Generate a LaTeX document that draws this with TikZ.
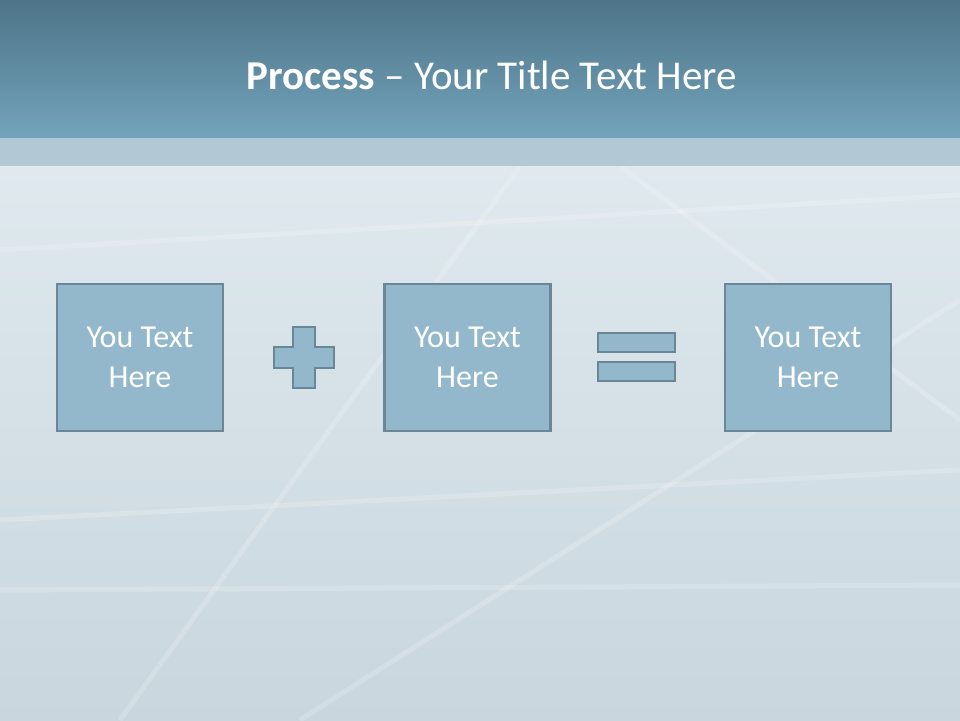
\documentclass[tikz,border=0pt]{standalone}
\usepackage{fontspec}
\setmainfont{Carlito}
\definecolor{headtop}{HTML}{4E7489}
\definecolor{headbot}{HTML}{72A3BA}
\definecolor{bandcol}{HTML}{B2C9D5}
\definecolor{bodytop}{HTML}{DFE9EE}
\definecolor{bodybot}{HTML}{C9D6DE}
\definecolor{boxfill}{HTML}{93B8CC}
\definecolor{boxline}{HTML}{6A8797}

\tikzset{
    txtbox/.style={
        draw=boxline,
        fill=boxfill,
        line width=2.8pt,
        minimum width=166pt,
        minimum height=147pt,
        align=center,
        text=white,
        font=\fontsize{32}{40}\selectfont
    },
    barbox/.style={
        draw=boxline,
        fill=boxfill,
        line width=2.8pt,
        minimum width=77pt,
        minimum height=19pt,
        inner sep=0pt
    },
    streak/.style={
        white,
        opacity=0.18,
        line width=5pt
    }
}

\begin{document}
\begin{tikzpicture}[x=1pt,y=-1pt]
\useasboundingbox (0,0) rectangle (960,720);
		% background
		\shade[top color=bodytop, bottom color=bodybot] (0,166) rectangle (960,720);
		\path[streak]
			(0,250) edge (960,195)
			(120,720) edge (520,166)
			(300,720) edge (960,300)
			(0,520) edge (960,470)
			(0,590) edge (960,585)
			(620,166) edge (960,420)
			;
		\fill[bandcol] (0,137) rectangle (960,166);
		\shade[top color=headtop, bottom color=headbot] (0,0) rectangle (960,137);

		\path
			node[text=white, font=\fontsize{41}{44}\selectfont] at (492,75) (title)
				{\textbf{Process} -- Your Title Text Here}
			;
		\path
			node[txtbox] at (140,357.5) (t1) {You Text\\Here}
			node[txtbox] at (467.5,357.5) (t2) {You Text\\Here}
			node[txtbox] at (808,357.5) (t3) {You Text\\Here}
			;
		% plus sign
		\draw[boxline, fill=boxfill, line width=2.8pt]
			(293,327) -- (315,327) -- (315,347) -- (334,347) -- (334,368)
			-- (315,368) -- (315,388) -- (293,388) -- (293,368) -- (274,368)
			-- (274,347) -- (293,347) -- cycle;
		% equals sign
		\path
			node[barbox] at (636.5,342.5) (eq1) {}
			node[barbox] at (636.5,371.5) (eq2) {}
			;
\end{tikzpicture}
\end{document}
